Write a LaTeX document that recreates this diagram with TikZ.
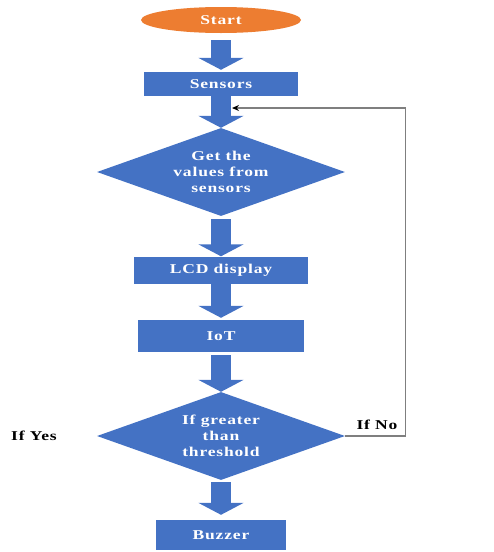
\documentclass[tikz,border=0pt]{standalone}
\usepackage{fontspec}
\newfontfamily\flowfont[FakeStretch=1.3,LetterSpace=6]{Liberation Serif}
\usetikzlibrary{arrows.meta,positioning,shapes.geometric}
\definecolor{flowblue}{HTML}{4472C4}
\definecolor{flowstart}{HTML}{ED7D31}
\definecolor{loopline}{HTML}{7F7F7F}

\begin{document}
\begin{tikzpicture}[x=1pt,y=-1pt,
  every node/.style={font=\flowfont\bfseries\fontsize{13.5}{16}\selectfont},
  box/.style={fill=flowblue,text=white,inner sep=0pt,align=center},
  decision/.style={diamond,fill=flowblue,text=white,aspect=2.8,inner sep=0pt,align=center,minimum width=248pt,minimum height=88pt},
  flow/.style={flowblue,line width=20pt,-{Triangle[width=45pt,length=12pt]}},
]
  \useasboundingbox (0,0) rectangle (494,552);

  \node[ellipse,fill=flowstart,text=white,inner sep=0pt,minimum width=160pt,minimum height=26pt] (start) at (221,20) {Start};
  \node[box,minimum width=154pt,minimum height=24pt] (sensors) at (221,84) {Sensors};
  \node[decision] (values) at (221,172) {Get the\\values from\\sensors};
  \node[box,minimum width=174pt,minimum height=27pt] (lcd) at (221,270) {LCD display};
  \node[box,minimum width=166pt,minimum height=32pt] (iot) at (221,336) {IoT};
  \node[decision] (check) at (221,436) {If greater\\than\\threshold};
  \node[box,minimum width=130pt,minimum height=30pt] (buzzer) at (221,535) {Buzzer};

  \node (yes) at (34,436) {If Yes};
  \node (no) at (377,425) {If No};

  \draw[flow,shorten <=7pt,shorten >=2pt] (start.south) -- (sensors.north);
  \draw[flow] (sensors.south) -- (values.north);
  \draw[flow,shorten <=3pt] (values.south) -- (lcd.north);
  \draw[flow,shorten >=2pt] (lcd.south) -- (iot.north);
  \draw[flow,shorten <=3pt] (iot.south) -- (check.north);
  \draw[flow,shorten <=2pt,shorten >=5pt] (check.south) -- (buzzer.north);

  % loop back when below threshold
  \coordinate (loopin) at (232,108);
  \draw[loopline,line width=1.4pt,-{Stealth[black,length=7pt,width=6pt]}] (check.east) -- ++(60,0) |- (loopin);
\end{tikzpicture}
\end{document}
